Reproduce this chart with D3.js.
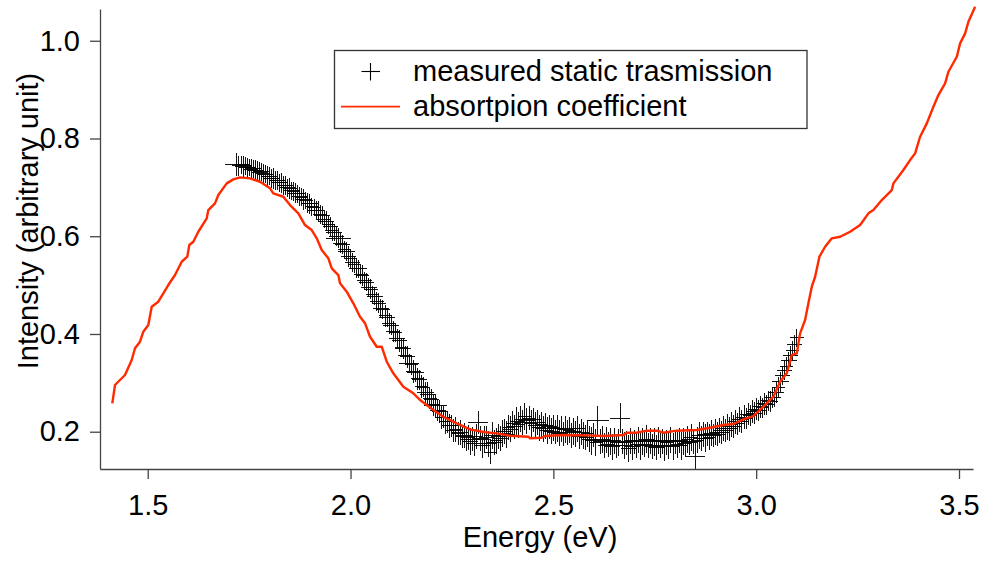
<!DOCTYPE html>
<html>
<head>
<meta charset="utf-8">
<script src="https://cdn.jsdelivr.net/npm/d3@7"></script>
<style>
  html, body { margin: 0; padding: 0; background: #fff; }
  svg { display: block; }
  text { font-family: "Liberation Sans", Arial, sans-serif; fill: #000; }
</style>
</head>
<body>
<svg id="chart" width="982" height="564"></svg>
<script>
// ---------- DATA ----------
const xTicks = [1.5, 2.0, 2.5, 3.0, 3.5];
const yTicks = [0.2, 0.4, 0.6, 0.8, 1.0];
const xTitle = "Energy (eV)";
const yTitle = "Intensity (arbitrary unit)";
const legendLabels = ["measured static trasmission", "absortpion coefficient"];

// absorption coefficient (red line)
const absE = [1.4127,1.4194,1.4440,1.4606,1.4687,1.4810,1.4892,1.5015,1.5099,1.5261,1.5385,1.5508,1.5673,1.5838,1.5976,1.6026,1.6124,1.6248,1.6455,1.6494,1.6659,1.6741,1.6948,1.7111,1.7276,1.7522,1.7769,1.8015,1.8097,1.8343,1.8509,1.8713,1.8878,1.9043,1.9167,1.9290,1.9453,1.9537,1.9699,1.9741,1.9906,2.0069,2.0234,2.0358,2.0481,2.0646,2.0769,2.0893,2.1055,2.1302,2.1548,2.1714,2.2042,2.2288,2.2618,2.2946,2.3316,2.3605,2.3933,2.4384,2.4426,2.4714,2.4796,2.5247,2.5824,2.6233,2.6726,2.6810,2.7056,2.7303,2.7549,2.7712,2.8042,2.8536,2.8864,2.9191,2.9438,2.9685,2.9931,3.0178,3.0424,3.0589,3.0754,3.0878,3.1001,3.1083,3.1206,3.1287,3.1371,3.1453,3.1559,3.1699,3.1864,3.2069,3.2316,3.2562,3.2767,3.2890,3.3097,3.3343,3.3383,3.3629,3.3794,3.3918,3.4041,3.4206,3.4369,3.4492,3.4657,3.4739,3.4946,3.5027,3.5151,3.5232,3.5397];
const absI = [.2581,.2956,.3160,.3467,.3707,.3842,.4046,.4183,.4558,.4660,.4832,.5002,.5206,.5478,.5581,.5820,.5887,.6092,.6366,.6536,.6673,.6843,.7082,.7164,.7205,.7185,.7115,.6980,.6878,.6808,.6638,.6469,.6229,.6127,.5957,.5718,.5548,.5343,.5206,.5036,.4865,.4627,.4353,.4218,.3944,.3739,.3739,.3432,.3195,.2921,.2786,.2649,.2444,.2307,.2172,.2049,.1988,.1967,.1918,.1898,.1865,.1877,.1912,.1933,.1926,.1912,.1933,.1980,.1980,.2021,.2021,.1980,.2021,.2035,.2082,.2137,.2158,.2254,.2321,.2512,.2716,.3023,.3195,.3569,.3604,.4013,.4286,.4627,.4967,.5171,.5581,.5785,.5957,.5990,.6092,.6229,.6469,.6536,.6741,.6945,.7082,.7355,.7559,.7696,.8036,.8310,.8650,.8889,.9128,.9366,.9673,.9947,1.0151,1.0389,1.0696];

// measured static transmission (crosses with error arms)
const measE = [
1.720,1.725,1.730,1.735,1.740,1.745,1.750,1.755,1.760,1.765,
1.770,1.775,1.780,1.785,1.790,1.795,1.800,1.805,1.810,1.815,
1.820,1.825,1.830,1.835,1.840,1.845,1.850,1.855,1.860,1.865,
1.870,1.875,1.880,1.885,1.890,1.895,1.900,1.905,1.910,1.915,
1.920,1.925,1.930,1.935,1.940,1.945,1.950,1.955,1.960,1.965,
1.970,1.975,1.980,1.985,1.990,1.995,2.000,2.005,2.010,2.015,
2.020,2.025,2.030,2.035,2.040,2.045,2.050,2.055,2.060,2.065,
2.070,2.075,2.080,2.085,2.090,2.095,2.100,2.105,2.110,2.115,
2.120,2.125,2.130,2.135,2.140,2.145,2.150,2.155,2.160,2.165,
2.170,2.175,2.180,2.185,2.190,2.195,2.200,2.205,2.210,2.215,
2.220,2.225,2.230,2.235,2.240,2.245,2.250,2.255,2.260,2.265,
2.270,2.275,2.280,2.285,2.290,2.295,2.300,2.305,2.310,2.315,
2.320,2.325,2.330,2.335,2.340,2.345,2.350,2.355,2.360,2.365,
2.370,2.375,2.380,2.385,2.390,2.395,2.400,2.405,2.410,2.415,
2.420,2.425,2.430,2.435,2.440,2.445,2.450,2.455,2.460,2.465,
2.470,2.475,2.480,2.485,2.490,2.495,2.500,2.505,2.510,2.515,
2.520,2.525,2.530,2.535,2.540,2.545,2.550,2.555,2.560,2.565,
2.570,2.575,2.580,2.585,2.590,2.595,2.600,2.605,2.610,2.615,
2.620,2.625,2.630,2.635,2.640,2.645,2.650,2.655,2.660,2.665,
2.670,2.675,2.680,2.685,2.690,2.695,2.700,2.705,2.710,2.715,
2.720,2.725,2.730,2.735,2.740,2.745,2.750,2.755,2.760,2.765,
2.770,2.775,2.780,2.785,2.790,2.795,2.800,2.805,2.810,2.815,
2.820,2.825,2.830,2.835,2.840,2.845,2.850,2.855,2.860,2.865,
2.870,2.875,2.880,2.885,2.890,2.895,2.900,2.905,2.910,2.915,
2.920,2.925,2.930,2.935,2.940,2.945,2.950,2.955,2.960,2.965,
2.970,2.975,2.980,2.985,2.990,2.995,3.000,3.005,3.010,3.015,
3.020,3.025,3.030,3.035,3.040,3.045,3.050,3.055,3.060,3.065,
3.070,3.075,3.080,3.085,3.090,3.095,3.100];
const measI = [
.747,.744,.746,.743,.744,.740,.741,.737,.738,.735,
.734,.731,.732,.728,.727,.722,.723,.718,.718,.714,
.714,.709,.709,.704,.704,.699,.698,.693,.692,.688,
.687,.681,.680,.675,.673,.668,.666,.660,.659,.653,
.652,.645,.642,.634,.631,.623,.620,.611,.608,.599,
.596,.586,.583,.573,.569,.559,.555,.546,.542,.535,
.533,.522,.520,.509,.506,.495,.492,.480,.477,.466,
.463,.453,.450,.437,.434,.421,.418,.405,.402,.390,
.386,.372,.370,.356,.353,.340,.337,.323,.321,.308,
.306,.293,.291,.280,.277,.268,.265,.255,.253,.243,
.241,.230,.230,.220,.220,.212,.212,.203,.205,.196,
.198,.190,.192,.184,.188,.180,.185,.176,.190,.219,
.186,.172,.184,.188,.175,.158,.192,.178,.181,.190,
.186,.196,.200,.194,.209,.205,.216,.210,.221,.214,
.226,.219,.231,.222,.228,.217,.224,.213,.219,.208,
.215,.206,.212,.203,.210,.201,.208,.199,.207,.197,
.206,.195,.204,.198,.203,.192,.201,.195,.206,.190,
.199,.192,.188,.196,.185,.181,.193,.178,.222,.180,
.184,.172,.183,.174,.180,.169,.181,.171,.178,.228,
.180,.172,.177,.166,.181,.170,.179,.173,.183,.171,
.180,.174,.185,.172,.181,.170,.179,.168,.182,.172,
.180,.169,.178,.171,.183,.170,.179,.173,.182,.171,
.180,.175,.184,.178,.188,.180,.150,.183,.192,.186,
.194,.187,.195,.189,.197,.192,.199,.195,.203,.198,
.207,.202,.210,.206,.215,.211,.220,.216,.225,.221,
.230,.227,.236,.233,.241,.238,.246,.243,.251,.249,
.257,.255,.263,.262,.270,.271,.281,.290,.302,.315,
.326,.333,.345,.355,.366,.379,.392];
const measErrE = [
.030,.018,.016,.020,.017,.019,.016,.018,.020,.017,
.016,.019,.018,.017,.020,.016,.018,.019,.017,.016,
.018,.020,.017,.016,.019,.018,.017,.020,.016,.018,
.017,.019,.016,.020,.018,.017,.019,.016,.018,.020,
.016,.018,.020,.017,.019,.016,.018,.017,.020,.019,
.030,.017,.019,.016,.020,.018,.017,.019,.016,.018,
.020,.017,.016,.019,.018,.020,.017,.016,.019,.018,
.017,.020,.018,.016,.019,.017,.020,.018,.016,.019,
.018,.016,.020,.017,.019,.025,.016,.018,.020,.017,
.019,.017,.016,.020,.018,.017,.019,.016,.028,.018,
.020,.017,.019,.018,.016,.020,.017,.019,.018,.016,
.019,.018,.020,.016,.017,.019,.018,.020,.017,.025,
.018,.020,.017,.019,.018,.016,.020,.018,.017,.019,
.020,.017,.019,.018,.016,.020,.017,.019,.018,.016,
.018,.019,.017,.020,.018,.016,.019,.017,.020,.018,
.016,.018,.020,.017,.019,.018,.016,.020,.017,.019,
.020,.017,.018,.019,.016,.020,.018,.017,.019,.018,
.017,.019,.018,.016,.020,.017,.019,.018,.028,.017,
.019,.016,.020,.018,.017,.019,.016,.018,.020,.025,
.018,.020,.017,.019,.016,.018,.020,.017,.019,.016,
.020,.017,.019,.018,.016,.020,.017,.019,.018,.016,
.017,.019,.018,.020,.016,.017,.019,.018,.020,.017,
.019,.018,.016,.020,.017,.022,.025,.016,.019,.020,
.016,.018,.020,.017,.019,.018,.016,.020,.017,.019,
.018,.020,.017,.019,.016,.018,.020,.017,.019,.018,
.020,.017,.019,.018,.016,.020,.017,.019,.018,.016,
.018,.019,.017,.020,.018,.016,.019,.017,.020,.018,
.019,.017,.020,.018,.016,.019,.017];
const measErrI = [
.024,.020,.018,.021,.019,.020,.018,.021,.019,.020,
.019,.021,.018,.020,.019,.021,.018,.020,.021,.019,
.020,.018,.021,.019,.020,.018,.021,.019,.020,.021,
.018,.020,.019,.021,.018,.020,.021,.019,.018,.020,
.021,.019,.020,.018,.021,.019,.020,.021,.018,.019,
.020,.021,.019,.018,.020,.021,.019,.020,.018,.021,
.019,.020,.021,.018,.019,.020,.021,.019,.018,.020,
.021,.019,.020,.022,.019,.021,.020,.022,.019,.021,
.022,.020,.021,.019,.022,.020,.021,.023,.020,.022,
.021,.023,.020,.022,.024,.021,.023,.022,.024,.021,
.023,.025,.022,.024,.023,.025,.022,.024,.026,.023,
.025,.024,.026,.023,.025,.027,.024,.026,.025,.024,
.026,.025,.027,.024,.026,.025,.028,.025,.027,.026,
.025,.027,.026,.028,.025,.027,.026,.024,.030,.026,
.027,.025,.028,.026,.024,.027,.025,.028,.026,.027,
.025,.027,.026,.028,.025,.027,.026,.025,.028,.026,
.027,.025,.028,.026,.027,.025,.028,.026,.027,.025,
.026,.028,.025,.027,.026,.028,.025,.027,.030,.026,
.028,.026,.027,.025,.028,.026,.027,.025,.028,.030,
.026,.028,.025,.027,.026,.028,.025,.027,.026,.028,
.027,.025,.028,.026,.027,.025,.028,.026,.027,.025,
.026,.028,.025,.027,.026,.028,.025,.027,.026,.028,
.027,.025,.028,.026,.027,.025,.028,.026,.027,.025,
.026,.028,.025,.027,.026,.024,.027,.025,.026,.024,
.025,.023,.026,.024,.025,.023,.024,.022,.025,.023,
.024,.022,.023,.021,.024,.022,.023,.021,.022,.020,
.022,.021,.020,.022,.021,.020,.022,.021,.020,.019,
.021,.020,.019,.021,.020,.019,.018];

// ---------- CHART ----------
const svg = d3.select("#chart");
const FONT = 29;
const RED = "#ff2a00";

const x = d3.scaleLinear().domain([1.3824, 3.5345]).range([100, 973]);
const y = d3.scaleLinear().domain([0.1237, 1.065]).range([469, 9]);

// measured crosses
const n = Math.min(measE.length, measI.length);
const pts = d3.range(n).map(i => ({
  e: measE[i], v: measI[i],
  de: measErrE[i] !== undefined ? measErrE[i] : 0.018,
  dv: measErrI[i] !== undefined ? measErrI[i] : 0.022
}));
const gPts = svg.append("g")
  .attr("stroke", "#000").attr("stroke-width", 1).attr("stroke-opacity", 0.92)
  .attr("shape-rendering", "crispEdges");
pts.forEach(p => {
  gPts.append("line")
    .attr("x1", x(p.e - p.de)).attr("x2", x(p.e + p.de))
    .attr("y1", y(p.v)).attr("y2", y(p.v));
  gPts.append("line")
    .attr("x1", x(p.e)).attr("x2", x(p.e))
    .attr("y1", y(p.v - p.dv)).attr("y2", y(p.v + p.dv));
});

// absorption line
const absData = d3.range(Math.min(absE.length, absI.length)).map(i => [absE[i], absI[i]]);
svg.append("path")
  .datum(absData)
  .attr("fill", "none").attr("stroke", RED).attr("stroke-width", 2.4)
  .attr("stroke-linejoin", "round")
  .attr("d", d3.line().x(d => x(d[0])).y(d => y(d[1])));

// axes
const xAxis = svg.append("g").attr("transform", "translate(0,469)")
  .call(d3.axisBottom(x).tickValues(xTicks).tickFormat(d3.format(".1f"))
    .tickSize(10).tickSizeOuter(0).tickPadding(15));
const yAxis = svg.append("g").attr("transform", "translate(100,0)")
  .call(d3.axisLeft(y).tickValues(yTicks).tickFormat(d3.format(".1f"))
    .tickSize(10).tickSizeOuter(0).tickPadding(10));
[xAxis, yAxis].forEach(g => {
  g.selectAll("path.domain").attr("stroke", "#444").attr("stroke-width", 1.3);
  g.selectAll(".tick line").attr("stroke", "#444").attr("stroke-width", 1.3);
  g.selectAll(".tick text").attr("font-size", FONT)
    .attr("font-family", "'Liberation Sans', Arial, sans-serif").attr("fill", "#000");
});

// axis titles
svg.append("text").attr("x", 540).attr("y", 547)
  .attr("text-anchor", "middle").attr("font-size", FONT).text(xTitle);
svg.append("text")
  .attr("transform", "translate(38,221) rotate(-90)")
  .attr("text-anchor", "middle").attr("font-size", FONT).text(yTitle);

// legend
const lg = svg.append("g");
lg.append("rect").attr("x", 334.5).attr("y", 50.5).attr("width", 472.5).attr("height", 78)
  .attr("fill", "#fff").attr("stroke", "#333").attr("stroke-width", 1.3);
lg.append("line").attr("x1", 361.5).attr("x2", 380).attr("y1", 71.5).attr("y2", 71.5)
  .attr("stroke", "#000").attr("stroke-width", 1.1);
lg.append("line").attr("x1", 370.5).attr("x2", 370.5).attr("y1", 63).attr("y2", 80.5)
  .attr("stroke", "#000").attr("stroke-width", 1.1);
lg.append("line").attr("x1", 341).attr("x2", 400).attr("y1", 106.7).attr("y2", 106.7)
  .attr("stroke", RED).attr("stroke-width", 1.8);
legendLabels.forEach((t, i) => {
  lg.append("text").attr("x", 413).attr("y", 81 + i * 35)
    .attr("font-size", FONT).text(t);
});
</script>
</body>
</html>
